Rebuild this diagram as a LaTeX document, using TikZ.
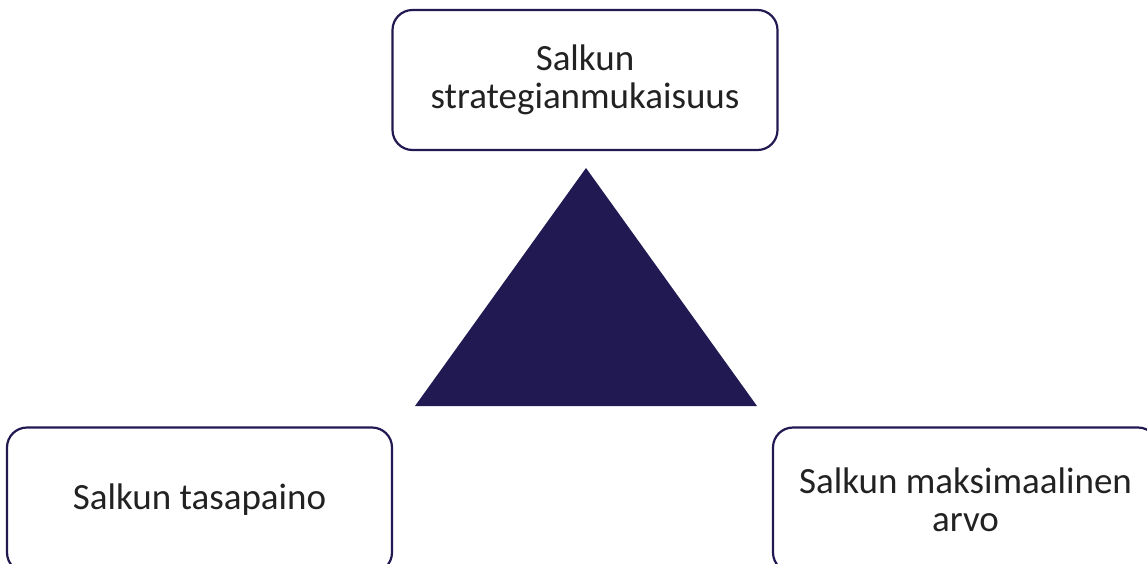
\documentclass[tikz,border=0pt]{standalone}
\usepackage{fontspec}
\setmainfont{Carlito}
\definecolor{navy}{HTML}{211A52}
\definecolor{ink}{HTML}{222222}
\begin{document}
\begin{tikzpicture}[x=1pt,y=-1pt,
  goalbox/.style={draw=navy, line width=2.2pt, rounded corners=20pt, fill=white,
    minimum width=385pt, minimum height=145pt, inner sep=0pt,
    align=center, text=ink, font=\fontsize{37}{38.5}\selectfont}]
  \useasboundingbox (0,0) rectangle (1147,563);
  \clip (0,0) rectangle (1147,563);
  % central triangle
  \fill[navy] (586,168) -- (757,406) -- (415,406) -- cycle;
  % the three goals
  \node[goalbox, minimum height=140pt] (strat) at (585,80) {Salkun\\strategianmukaisuus};
  \node[goalbox] (bal) at (199.5,500) {Salkun tasapaino};
  \node[goalbox] (val) at (965.5,500) {Salkun maksimaalinen\\arvo};
\end{tikzpicture}
\end{document}
